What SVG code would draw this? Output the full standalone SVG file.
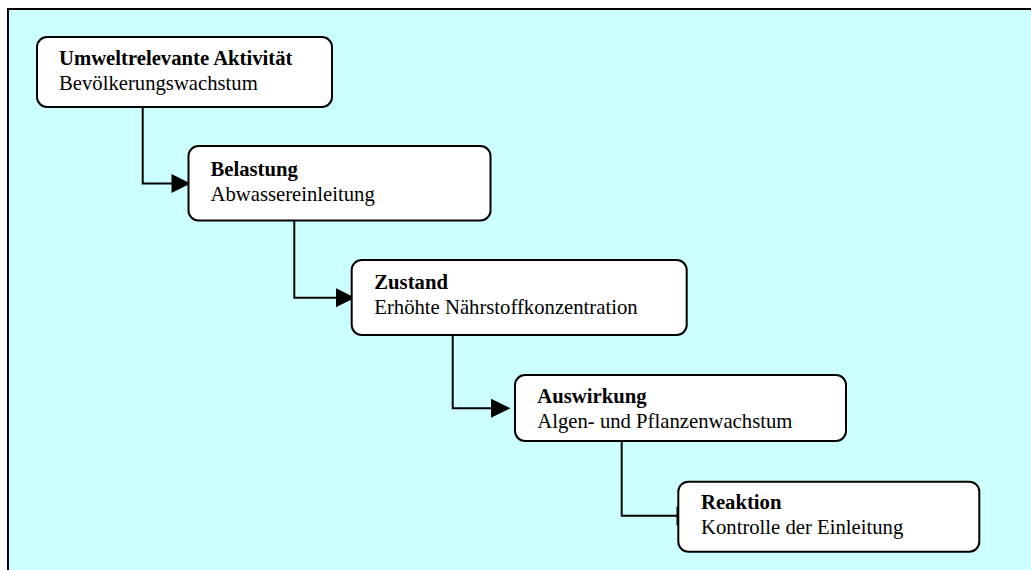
<svg xmlns="http://www.w3.org/2000/svg" width="1031" height="570" viewBox="0 0 1031 570">
  <defs>
    <style>
      .frame { fill: #CCFFFF; stroke: #000; stroke-width: 2; }
      .box { fill: #FFFFFF; stroke: #000; stroke-width: 2; }
      .conn { fill: none; stroke: #000; stroke-width: 2; }
      .head { fill: #000; stroke: none; }
      text { font-family: "Liberation Serif", "Times New Roman", serif; font-size: 20.7px; fill: #000; }
      .title { font-weight: bold; }
    </style>
  </defs>
  <rect class="frame" x="8" y="9" width="1040" height="580"/>

  <g id="connectors">
    <polyline class="conn" points="142.7,107 142.7,183.5 172,183.5"/>
    <polygon class="head" points="171.5,174 190.5,183.5 171.5,193"/>
    <polyline class="conn" points="294.3,220.5 294.3,297.8 337,297.8"/>
    <polygon class="head" points="336,288.3 355,297.8 336,307.3"/>
    <polyline class="conn" points="452.7,335 452.7,408.3 492,408.3"/>
    <polygon class="head" points="491,398.8 510.5,408.3 491,417.8"/>
    <polyline class="conn" points="621.7,441 621.7,515.7 678,515.7"/>
    <polygon class="head" points="676.5,506.5 695.5,516 676.5,525.5"/>
  </g>

  <g id="node-aktivitaet">
    <rect class="box" x="37" y="37" width="295" height="70" rx="10" ry="10"/>
    <text class="title" x="59" y="65">Umweltrelevante Aktivität</text>
    <text x="59" y="90">Bevölkerungswachstum</text>
  </g>
  <g id="node-belastung">
    <rect class="box" x="188.5" y="146" width="302" height="74.5" rx="10" ry="10"/>
    <text class="title" x="210.5" y="175.5">Belastung</text>
    <text x="210.5" y="200.5">Abwassereinleitung</text>
  </g>
  <g id="node-zustand">
    <rect class="box" x="351.7" y="260" width="335" height="75" rx="10" ry="10"/>
    <text class="title" x="374.3" y="289">Zustand</text>
    <text x="374.3" y="314">Erhöhte Nährstoffkonzentration</text>
  </g>
  <g id="node-auswirkung">
    <rect class="box" x="515" y="375" width="331" height="66" rx="10" ry="10"/>
    <text class="title" x="537.3" y="403.3">Auswirkung</text>
    <text x="537.3" y="428.3">Algen- und Pflanzenwachstum</text>
  </g>
  <g id="node-reaktion">
    <rect class="box" x="678.3" y="481.7" width="301" height="70" rx="10" ry="10"/>
    <text class="title" x="701" y="509.3">Reaktion</text>
    <text x="701" y="534.3">Kontrolle der Einleitung</text>
  </g>
</svg>
